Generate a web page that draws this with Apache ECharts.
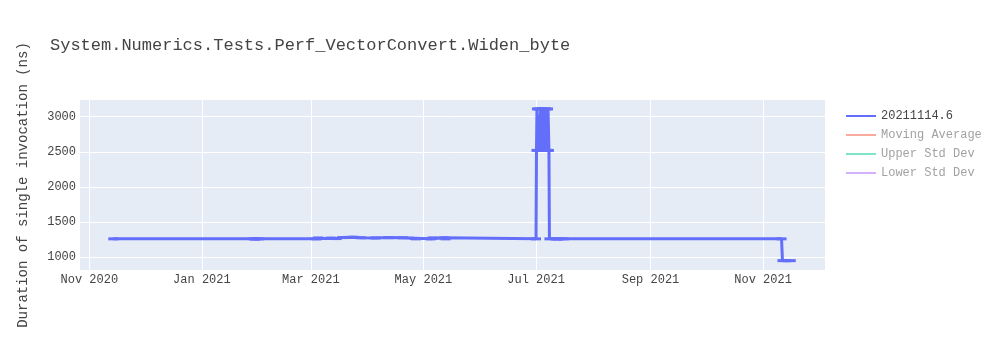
<!DOCTYPE html>
<html>
<head>
<meta charset="utf-8">
<script src="https://cdn.jsdelivr.net/npm/echarts@6/dist/echarts.min.js"></script>
<style>html,body{margin:0;padding:0;background:#fff}#c{width:1000px;height:350px}</style>
</head>
<body>
<div id="c"></div>
<script>
const chartTitle = 'System.Numerics.Tests.Perf_VectorConvert.Widen_byte';
const yAxisTitle = 'Duration of single invocation (ns)';
const seriesNames = ['20211114.6', 'Moving Average', 'Upper Std Dev', 'Lower Std Dev'];

const dates = [
  '2020-11-14', '2021-01-29', '2021-01-30', '2021-02-01', '2021-03-04', '2021-03-05',
  '2021-03-12', '2021-03-15', '2021-03-18', '2021-03-24', '2021-03-28', '2021-04-05',
  '2021-04-12', '2021-04-20', '2021-04-26', '2021-04-27', '2021-05-05', '2021-05-06',
  '2021-05-12', '2021-05-13', '2021-07-01T00:00', '2021-07-01T06:00', '2021-07-01T12:00', '2021-07-02T12:00',
  '2021-07-03T00:00', '2021-07-03T12:00', '2021-07-04T00:00', '2021-07-04T12:00',
  '2021-07-05T00:00', '2021-07-05T12:00', '2021-07-06T00:00', '2021-07-06T12:00',
  '2021-07-07T00:00', '2021-07-07T12:00', '2021-07-08T00:00', '2021-07-08T06:00',
  '2021-07-12', '2021-07-13', '2021-07-16', '2021-11-11T00:00', '2021-11-11T12:00', '2021-11-16'
];
const values = [
  1262, 1262, 1259, 1262, 1262, 1275,
  1272, 1266, 1280, 1285, 1278, 1275,
  1280, 1277, 1270, 1262, 1262, 1276,
  1276, 1262, 1262, 2520, 3110, 3110,
  2520, 3110, 2520, 3110,
  2520, 3110, 2520, 3110,
  2520, 3110, 2520, 1262,
  1262, 1259, 1262, 1262, 952, 952
];
const movingAverage = [];
const upperStdDev = [];
const lowerStdDev = [];

const yTicks = [1000, 1500, 2000, 2500, 3000];
const xTicks = ['2020-11-01', '2021-01-01', '2021-03-01', '2021-05-01', '2021-07-01', '2021-09-01', '2021-11-01'];
const xRange = ['2020-10-26T23:00', '2021-12-04T13:00'];
const monthNames = ['Jan','Feb','Mar','Apr','May','Jun','Jul','Aug','Sep','Oct','Nov','Dec'];

function ts(s) { return new Date(s.length === 10 ? s + 'T00:00' : s).getTime(); }

const FONT = '"Liberation Mono", "Courier New", monospace';
const chart = echarts.init(document.getElementById('c'), null, {renderer: 'canvas'});
const mainData = dates.map((d, i) => [ts(d), values[i]]);

chart.setOption({
  animation: false,
  backgroundColor: '#ffffff',
  textStyle: {fontFamily: FONT},
  title: {
    text: chartTitle, left: 50, top: 37, padding: 0,
    textStyle: {fontFamily: FONT, fontSize: 17, fontWeight: 'normal', color: '#444444'}
  },
  grid: {left: 80, right: 175, top: 100, bottom: 80, show: true, backgroundColor: '#E5ECF6', borderWidth: 0},
  legend: {
    orient: 'vertical', left: 846, top: 110, padding: 0,
    itemWidth: 30, itemHeight: 14, itemGap: 7,
    icon: 'path://M0,0 L30,0 L30,2 L0,2 Z',
    textStyle: {fontFamily: FONT, fontSize: 12, color: '#444444'},
    data: [
      {name: seriesNames[0]},
      {name: seriesNames[1], textStyle: {color: '#a2a2a2'}},
      {name: seriesNames[2], textStyle: {color: '#a2a2a2'}},
      {name: seriesNames[3], textStyle: {color: '#a2a2a2'}}
    ]
  },
  xAxis: {
    type: 'value',
    min: ts(xRange[0]), max: ts(xRange[1]),
    axisLine: {show: false},
    axisTick: {show: false, customValues: xTicks.map(ts)},
    splitLine: {show: true, lineStyle: {color: '#ffffff', width: 1}},
    axisLabel: {
      customValues: xTicks.map(ts), margin: 4, color: '#444444', fontFamily: FONT, fontSize: 12,
      formatter: v => { const d = new Date(v); return monthNames[d.getMonth()] + ' ' + d.getFullYear(); }
    }
  },
  yAxis: {
    type: 'value', min: 819, max: 3237,
    name: yAxisTitle, nameLocation: 'middle', nameRotate: 90, nameGap: 50,
    nameTextStyle: {fontFamily: FONT, fontSize: 14, color: '#444444'},
    axisLine: {show: false},
    axisTick: {show: false, customValues: yTicks},
    splitLine: {show: true, lineStyle: {color: '#ffffff', width: 1}},
    axisLabel: {customValues: yTicks, margin: 4, color: '#444444', fontFamily: FONT, fontSize: 12,
      formatter: v => String(v)}
  },
  series: [
    {
      name: seriesNames[0], type: 'line', data: mainData, color: '#636efa',
      lineStyle: {width: 3, color: '#636efa'},
      symbol: 'rect', symbolSize: [10, 3], showAllSymbol: true,
      itemStyle: {color: '#636efa'}
    },
    {name: seriesNames[1], type: 'line', data: movingAverage, color: '#f7aa9d', lineStyle: {color: '#f7aa9d', width: 2}, symbol: 'none'},
    {name: seriesNames[2], type: 'line', data: upperStdDev, color: '#7fe5ca', lineStyle: {color: '#7fe5ca', width: 2}, symbol: 'none'},
    {name: seriesNames[3], type: 'line', data: lowerStdDev, color: '#d5b1fc', lineStyle: {color: '#d5b1fc', width: 2}, symbol: 'none'}
  ]
});
</script>
</body>
</html>
